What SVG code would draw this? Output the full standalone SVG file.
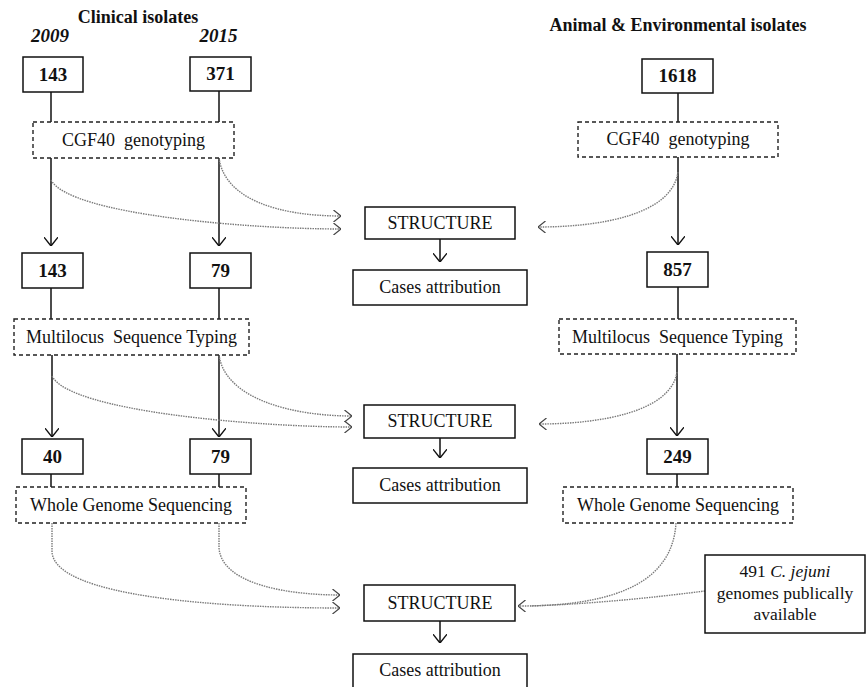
<svg xmlns="http://www.w3.org/2000/svg" width="867" height="687" viewBox="0 0 867 687">
<style>
  text { font-family: "Liberation Serif", "Times New Roman", serif; fill: #111; }
  .hdr { font-size: 18px; font-weight: bold; text-anchor: middle; }
  .yr { font-size: 19px; font-weight: bold; font-style: italic; text-anchor: middle; }
  .num { font-size: 19px; font-weight: bold; text-anchor: middle; }
  .lbl { font-size: 18px; text-anchor: middle; }
  .sm { font-size: 17.5px; text-anchor: middle; }
  .box { fill: #fff; stroke: #111; stroke-width: 1.5; }
  .dbox { fill: #fff; stroke: #222; stroke-width: 1.4; stroke-dasharray: 4 3; }
  .solid { fill: none; stroke: #111; stroke-width: 1.5; marker-end: url(#arr); }
  .plain { fill: none; stroke: #111; stroke-width: 1.5; }
  .dot { fill: none; stroke: #7a7a7a; stroke-width: 1.4; stroke-dasharray: 1.5 1; marker-end: url(#arrd); }
  .dotp { fill: none; stroke: #7a7a7a; stroke-width: 1.4; stroke-dasharray: 1.5 1; }
</style>
<defs>
  <marker id="arr" markerUnits="userSpaceOnUse" viewBox="0 0 10 16" refX="10" refY="8" markerWidth="9" markerHeight="14" orient="auto">
    <path d="M0,0 L10,8 L0,16" fill="none" stroke="#111" stroke-width="1.6"/>
  </marker>
  <marker id="arrd" markerUnits="userSpaceOnUse" viewBox="0 0 10 16" refX="10" refY="8" markerWidth="8" markerHeight="12" orient="auto">
    <path d="M0,0 L10,8 L0,16" fill="none" stroke="#444" stroke-width="1.6"/>
  </marker>
</defs>

<g id="headers">
  <text class="hdr" x="138" y="23">Clinical isolates</text>
  <text class="yr" x="50" y="42">2009</text>
  <text class="yr" x="218.5" y="42">2015</text>
  <text class="hdr" x="678" y="31">Animal &amp; Environmental isolates</text>
</g>

<g id="connectors">
  <path class="plain" d="M51,92 V122"/>
  <path class="plain" d="M219,91 V122"/>
  <path class="plain" d="M678,93 V122"/>
  <path class="solid" d="M51,158 V246"/>
  <path class="solid" d="M219,158 V246"/>
  <path class="solid" d="M678,157 V245"/>
  <path class="plain" d="M51,288 V319"/>
  <path class="plain" d="M219,288 V319"/>
  <path class="plain" d="M678,287 V319"/>
  <path class="solid" d="M52,355 V437"/>
  <path class="solid" d="M219,355 V437"/>
  <path class="solid" d="M677,354 V436"/>
  <path class="plain" d="M51,474 V487"/>
  <path class="plain" d="M219,474 V487"/>
  <path class="plain" d="M677,474 V487"/>
  <path class="solid" d="M440,239 V262"/>
  <path class="solid" d="M440,438 V458"/>
  <path class="solid" d="M440,621 V643"/>

  <path class="dot" d="M51,180 C 70,215 250,229 341,229"/>
  <path class="dot" d="M219,158 C 225,200 280,216 341,216"/>
  <path class="dot" d="M678,172 C 672,215 600,227 538,227"/>

  <path class="dot" d="M52,376 C 70,412 260,427 352,427"/>
  <path class="dot" d="M219,355 C 225,398 290,416 352,416"/>
  <path class="dot" d="M677,372 C 671,412 600,424 539,424"/>

  <path class="dot" d="M52,523 L52,552 C 55,597 220,608 340,608"/>
  <path class="dot" d="M219,523 L219,548 C 222,585 290,595 340,595"/>
  <path class="dot" d="M676,523 C 672,590 600,606 518,606"/>
  <path class="dotp" d="M705,591 C 650,598 590,604 530,606"/>
</g>

<g id="n143a"><rect class="box" x="23" y="57" width="60" height="35"/><text class="num" x="53" y="81">143</text></g>
<g id="n371"><rect class="box" x="190" y="57" width="61" height="34"/><text class="num" x="220.5" y="80">371</text></g>
<g id="n1618"><rect class="box" x="642" y="59" width="71" height="34"/><text class="num" x="677.5" y="82">1618</text></g>

<g id="cgf_left"><rect class="dbox" x="33" y="122" width="201" height="36"/><text class="lbl" x="133.5" y="146" xml:space="preserve">CGF40  genotyping</text></g>
<g id="cgf_right"><rect class="dbox" x="578" y="122" width="200" height="35"/><text class="lbl" x="678" y="145" xml:space="preserve">CGF40  genotyping</text></g>

<g id="n143b"><rect class="box" x="22" y="253" width="61" height="35"/><text class="num" x="52.5" y="277">143</text></g>
<g id="n79a"><rect class="box" x="190" y="253" width="61" height="35"/><text class="num" x="220.5" y="277">79</text></g>
<g id="n857"><rect class="box" x="647" y="252" width="61" height="35"/><text class="num" x="677.5" y="276">857</text></g>

<g id="mlst_left"><rect class="dbox" x="14" y="319" width="235" height="36"/><text class="lbl" x="131.5" y="343" xml:space="preserve">Multilocus  Sequence Typing</text></g>
<g id="mlst_right"><rect class="dbox" x="559" y="319" width="237" height="35"/><text class="lbl" x="677.5" y="343" xml:space="preserve">Multilocus  Sequence Typing</text></g>

<g id="n40"><rect class="box" x="22" y="439" width="61" height="35"/><text class="num" x="52.5" y="463">40</text></g>
<g id="n79b"><rect class="box" x="190" y="439" width="61" height="35"/><text class="num" x="220.5" y="463">79</text></g>
<g id="n249"><rect class="box" x="647" y="439" width="61" height="35"/><text class="num" x="677.5" y="463">249</text></g>

<g id="wgs_left"><rect class="dbox" x="16" y="487" width="230" height="36"/><text class="lbl" x="131" y="511">Whole Genome Sequencing</text></g>
<g id="wgs_right"><rect class="dbox" x="563" y="487" width="230" height="36"/><text class="lbl" x="678" y="511">Whole Genome Sequencing</text></g>

<g id="structure1"><rect class="box" x="365" y="207" width="150" height="32"/><text class="lbl" x="440" y="229">STRUCTURE</text></g>
<g id="cases1"><rect class="box" x="353" y="270" width="174" height="35"/><text class="lbl" x="440" y="293">Cases attribution</text></g>
<g id="structure2"><rect class="box" x="364" y="405" width="151" height="33"/><text class="lbl" x="440" y="427">STRUCTURE</text></g>
<g id="cases2"><rect class="box" x="353" y="468" width="174" height="35"/><text class="lbl" x="440" y="491">Cases attribution</text></g>
<g id="structure3"><rect class="box" x="364" y="585" width="151" height="36"/><text class="lbl" x="440" y="609">STRUCTURE</text></g>
<g id="cases3"><rect class="box" x="353" y="654" width="174" height="35"/><text class="lbl" x="440" y="676">Cases attribution</text></g>

<g id="public_genomes">
  <rect class="box" x="705" y="555" width="160" height="78"/>
  <text class="sm" x="785" y="577">491 <tspan font-style="italic">C. jejuni</tspan></text>
  <text class="sm" x="785" y="599">genomes publically</text>
  <text class="sm" x="785" y="620">available</text>
</g>
</svg>
